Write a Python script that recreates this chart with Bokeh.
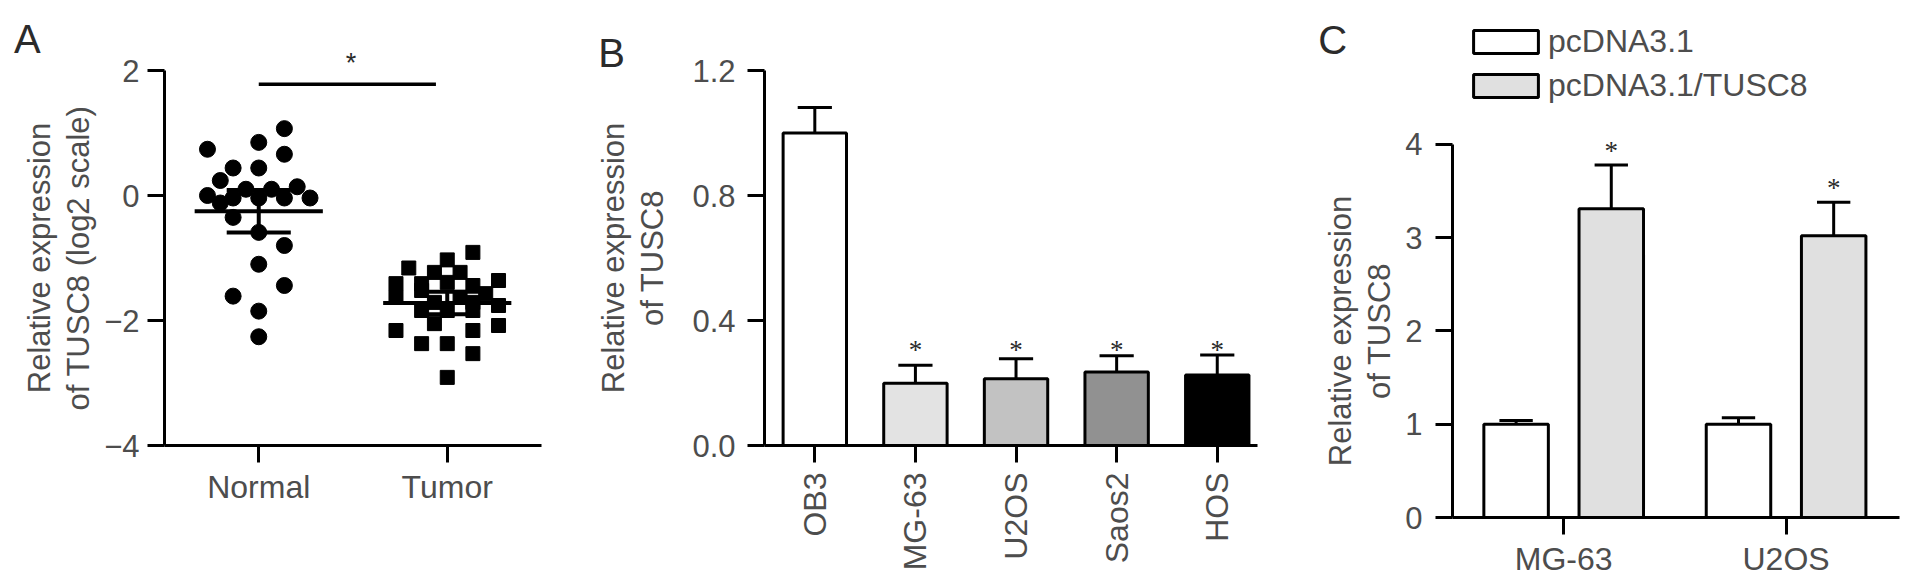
import math
from bokeh.plotting import figure
from bokeh.layouts import row
from bokeh.models import (ColumnDataSource, FixedTicker, Range1d, Label, LabelSet,
                          Legend, LegendItem)
from bokeh.embed import file_html
from bokeh.resources import INLINE

# ---------------- Panel A data ----------------
a_groups = ["Normal", "Tumor"]
normal_vals = [1.07, 0.85, 0.74, 0.66, 0.44, 0.44, 0.24, 0.14, 0.10, 0.10, 0.00, -0.04,
               -0.04, -0.04, -0.04, -0.12, -0.35, -0.59, -0.80, -1.10, -1.44, -1.61, -1.85, -2.26]
normal_cols = [2, 0, -4, 2, -2, 0, -3, 3, -1, 1, -4, -2, 0, 2, 4, -3, -2, 0, 2, 0, 2, -2, 0, 0]
tumor_vals = [-0.91, -1.03, -1.16, -1.23, -1.23, -1.36, -1.41, -1.41, -1.39, -1.44, -1.63, -1.52,
              -1.57, -1.63, -1.71, -1.71, -1.76, -1.84, -1.84, -1.84, -2.05, -2.16, -2.08, -2.16,
              -2.37, -2.37, -2.53, -2.91]
tumor_cols = [2, 0, -3, -1, 1, 4, -4, -2, 0, 2, -4, -2, 3, 1, -1, 2, 4, -2, 0, 2, -1, 2, 4, -4,
              -2, 0, 2, 0]
a_means = [-0.25, -1.72]
a_errs = [0.34, 0.18]
a_sig_y = 1.78
a_star_y = 2.12
a_yticks = [-4, -2, 0, 2]
a_ytick_labels = ["\u22124", "\u22122", "0", "2"]

# ---------------- Panel B data ----------------
b_cells = ["OB3", "MG-63", "U2OS", "Saos2", "HOS"]
b_vals = [1.0, 0.199, 0.214, 0.235, 0.226]
b_errs = [0.082, 0.058, 0.064, 0.052, 0.064]
b_colors = ["#ffffff", "#e3e3e3", "#c2c2c2", "#919191", "#000000"]
b_sig = ["", "*", "*", "*", "*"]
b_yticks = [0.0, 0.4, 0.8, 1.2]
b_ytick_labels = ["0.0", "0.4", "0.8", "1.2"]

# ---------------- Panel C data ----------------
c_cells = ["MG-63", "U2OS"]
c_series = ["pcDNA3.1", "pcDNA3.1/TUSC8"]
c_ctrl = [1.0, 1.0]
c_ctrl_err = [0.04, 0.07]
c_tusc = [3.31, 3.02]
c_tusc_err = [0.47, 0.36]
c_sig = ["*", "*"]
c_colors = ["#ffffff", "#e0e0e0"]
c_yticks = [0, 1, 2, 3, 4]
c_ylabel = "Relative expression\nof TUSC8"

FONT = "Liberation Sans"
TXT = "#4d4d4d"
DARK = "#2b2b2b"
LH = 1.12


def no_align(p):
    try:
        p.frame_align = False
    except Exception:
        pass


def style(p, ylabel, label_standoff, ylab_standoff, xlab_standoff):
    no_align(p)
    p.outline_line_color = None
    p.xgrid.visible = False
    p.ygrid.visible = False
    p.background_fill_color = "white"
    p.border_fill_color = "white"
    for ax in p.axis:
        ax.axis_line_width = 3
        ax.axis_line_color = "black"
        ax.major_tick_line_width = 3
        ax.major_tick_line_color = "black"
        ax.major_tick_in = 0
        ax.major_tick_out = 17
        ax.minor_tick_line_color = None
        ax.major_label_text_font = FONT
        ax.major_label_text_color = TXT
        ax.major_label_text_font_size = "31px"
        ax.axis_label_text_font = FONT
        ax.axis_label_text_font_style = "normal"
        ax.axis_label_text_color = TXT
        ax.axis_label_text_font_size = "31px"
        ax.axis_label_text_line_height = LH
    if ylabel:
        p.yaxis.axis_label = ylabel
    p.yaxis.axis_label_standoff = label_standoff
    p.yaxis.major_label_standoff = ylab_standoff
    p.xaxis.major_label_standoff = xlab_standoff
    p.xaxis.major_label_text_font_size = "32px"


def letter(p, text, x, y, side="above"):
    p.add_layout(Label(x=x, y=y, text=text, text_font=FONT, text_font_size="40px",
                       text_color=DARK, text_baseline="alphabetic", text_align="left"), side)


def star(p, x, y, side):
    p.add_layout(Label(x=x, y=y, text="*", text_font=FONT, text_font_size="27px",
                       text_color=DARK, text_align="center", text_baseline="middle"), side)


# ================= Panel A =================
step = 0.068
pA = figure(width=570, height=579, x_range=Range1d(0.5, 2.5), y_range=Range1d(-4, 2),
            output_backend="svg", toolbar_location=None,
            min_border_left=164, min_border_right=29, min_border_top=70, min_border_bottom=134)
style(pA, "Relative expression\nof TUSC8 (log2 scale)", 5, 8, 6)
pA.xaxis.ticker = FixedTicker(ticks=[1, 2])
pA.xaxis.major_label_overrides = {1: a_groups[0], 2: a_groups[1]}
pA.yaxis.ticker = FixedTicker(ticks=a_yticks)
pA.yaxis.major_label_overrides = dict(zip(a_yticks, a_ytick_labels))

srcN = ColumnDataSource(dict(x=[1 + c * step for c in normal_cols], y=normal_vals))
srcT = ColumnDataSource(dict(x=[2 + c * step for c in tumor_cols], y=tumor_vals))
pA.scatter("x", "y", source=srcN, marker="circle", size=16, fill_color="black", line_color="black")
pA.scatter("x", "y", source=srcT, marker="square", size=14, fill_color="black", line_color="black")

gx = [1, 2]
pA.segment(x0=[g - 0.34 for g in gx], x1=[g + 0.34 for g in gx], y0=a_means, y1=a_means,
           line_width=4, line_color="black")
pA.segment(x0=gx, x1=gx, y0=[m - e for m, e in zip(a_means, a_errs)],
           y1=[m + e for m, e in zip(a_means, a_errs)], line_width=4, line_color="black")
for sgn in (-1, 1):
    ys = [m + sgn * e for m, e in zip(a_means, a_errs)]
    pA.segment(x0=[g - 0.17 for g in gx], x1=[g + 0.17 for g in gx], y0=ys, y1=ys,
               line_width=4, line_color="black")
pA.segment(x0=[1.0], x1=[1.94], y0=[a_sig_y], y1=[a_sig_y], line_width=3.5, line_color="black")
star(pA, 1.49, a_star_y, "below")
letter(pA, "A", 0.5 + (13 - 164) / 189.0, 2 + (70 - 38) / 62.5)

# ================= Panel B =================
pB = figure(width=692, height=579, x_range=Range1d(-0.5, 4.4), y_range=Range1d(0, 1.2),
            output_backend="svg", toolbar_location=None,
            min_border_left=194, min_border_right=5, min_border_top=70, min_border_bottom=134)
style(pB, "Relative expression\nof TUSC8", 19, 12, 10)
bx = list(range(len(b_cells)))
pB.xaxis.ticker = FixedTicker(ticks=bx)
pB.xaxis.major_label_overrides = dict(zip(bx, b_cells))
pB.xaxis.major_label_orientation = math.pi / 2
pB.yaxis.ticker = FixedTicker(ticks=b_yticks)
pB.yaxis.major_label_overrides = dict(zip(b_yticks, b_ytick_labels))

srcB = ColumnDataSource(dict(x=bx, top=b_vals, err_top=[v + e for v, e in zip(b_vals, b_errs)],
                             color=b_colors,
                             cap0=[x - 0.17 for x in bx], cap1=[x + 0.17 for x in bx]))
pB.segment(x0="x", x1="x", y0="top", y1="err_top", source=srcB, line_width=3, line_color="black")
pB.segment(x0="cap0", x1="cap1", y0="err_top", y1="err_top", source=srcB, line_width=3,
           line_color="black")
pB.vbar(x="x", top="top", width=0.63, source=srcB, fill_color="color", line_color="black",
        line_width=3)
star_level = max(v + e for v, e, s in zip(b_vals, b_errs, b_sig) if s) + 0.015
srcBs = ColumnDataSource(dict(x=bx, y=[star_level] * len(bx), sig=b_sig))
pB.add_layout(LabelSet(x="x", y="y", text="sig", source=srcBs, text_font=FONT,
                       text_font_size="27px", text_color=DARK, text_align="center",
                       text_baseline="middle"))
letter(pB, "B", -0.5 + (598 - 764) / 100.5, 1.2 + (70 - 52) / 312.5)

# ================= Panel C =================
c_ppu = (521 - 145) / 4.0
c_frame_top = 10
c_top = 4 + (145 - c_frame_top) / c_ppu
pC = figure(width=638, height=579, x_range=Range1d(-0.5, 1.51), y_range=Range1d(0, c_top),
            output_backend="svg", toolbar_location=None,
            min_border_left=190, min_border_right=1, min_border_top=c_frame_top,
            min_border_bottom=58)
style(pC, None, 8, 13, 6)
pC.yaxis.bounds = (0, 4)
cx = list(range(len(c_cells)))
pC.xaxis.ticker = FixedTicker(ticks=cx)
pC.xaxis.major_label_overrides = dict(zip(cx, c_cells))
pC.yaxis.ticker = FixedTicker(ticks=c_yticks)

off = 0.214
bw = 0.29
renderers = []
for vals, errs, sgn, col in ((c_ctrl, c_ctrl_err, -1, c_colors[0]), (c_tusc, c_tusc_err, 1, c_colors[1])):
    xs = [x + sgn * off for x in cx]
    et = [v + e for v, e in zip(vals, errs)]
    src = ColumnDataSource(dict(x=xs, top=vals, err_top=et,
                                cap0=[x - 0.075 for x in xs], cap1=[x + 0.075 for x in xs]))
    pC.segment(x0="x", x1="x", y0="top", y1="err_top", source=src, line_width=3, line_color="black")
    pC.segment(x0="cap0", x1="cap1", y0="err_top", y1="err_top", source=src, line_width=3,
               line_color="black")
    r = pC.vbar(x="x", top="top", width=bw, source=src, fill_color=col, line_color="black",
                line_width=3)
    renderers.append(r)

srcCs = ColumnDataSource(dict(x=[x + off for x in cx],
                              y=[v + e + 0.15 for v, e in zip(c_tusc, c_tusc_err)], sig=c_sig))
pC.add_layout(LabelSet(x="x", y="y", text="sig", source=srcCs, text_font=FONT,
                       text_font_size="27px", text_color=DARK, text_align="center",
                       text_baseline="middle"))

legend = Legend(items=[LegendItem(label=c_series[0], renderers=[renderers[0]]),
                       LegendItem(label=c_series[1], renderers=[renderers[1]])],
                location=(13, 413), orientation="vertical")
legend.glyph_width = 81
legend.glyph_height = 29
legend.label_text_font = FONT
legend.label_text_font_size = "32px"
legend.label_text_color = TXT
legend.label_standoff = 2
legend.spacing = 7
legend.padding = 0
legend.margin = 0
legend.border_line_color = None
legend.background_fill_alpha = 0
pC.add_layout(legend)

# y-axis title of panel C, centred on the 0..4 axis span
pC.add_layout(Label(x=-0.5 + (1360 - 1452) / 222.0, y=(521 - 333) / c_ppu, text=c_ylabel,
                    angle=math.pi / 2, text_font=FONT, text_font_size="31px", text_color=TXT,
                    text_align="center", text_baseline="middle", text_line_height=LH), "left")
letter(pC, "C", -0.5 + (1318 - 1452) / 222.0, 4.0 + (145 - 40) / c_ppu, side="left")

layout = row(pA, pB, pC)
open("out.html", "w").write(file_html(layout, INLINE))
